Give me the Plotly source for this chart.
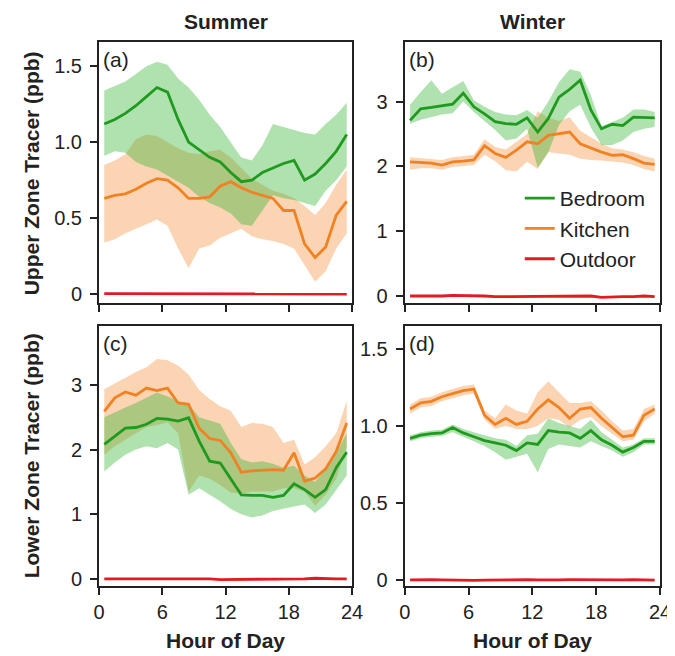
import plotly.graph_objects as go
from plotly.subplots import make_subplots

hours = [h + 0.5 for h in range(24)]

# ---- (a) Summer, upper zone ----
a_bed = [1.12, 1.15, 1.19, 1.24, 1.30, 1.36, 1.33, 1.15, 1.00, 0.95, 0.90, 0.87,
         0.80, 0.74, 0.75, 0.80, 0.83, 0.86, 0.88, 0.75, 0.79, 0.86, 0.94, 1.05]
a_bed_hi = [1.34, 1.37, 1.40, 1.45, 1.50, 1.53, 1.51, 1.42, 1.36, 1.28, 1.18, 1.10,
            1.00, 0.90, 0.88, 0.98, 1.12, 1.10, 1.08, 1.06, 1.05, 1.12, 1.18, 1.26]
a_bed_lo = [0.91, 0.94, 0.93, 0.87, 0.84, 0.82, 0.78, 0.74, 0.70, 0.64, 0.60, 0.57,
            0.53, 0.46, 0.45, 0.55, 0.65, 0.63, 0.62, 0.60, 0.58, 0.68, 0.75, 0.84]
a_kit = [0.63, 0.65, 0.66, 0.69, 0.73, 0.76, 0.75, 0.70, 0.63, 0.63, 0.64, 0.71,
         0.74, 0.70, 0.67, 0.65, 0.63, 0.55, 0.55, 0.33, 0.24, 0.31, 0.52, 0.61]
a_kit_hi = [0.85, 0.88, 0.92, 1.02, 1.05, 1.04, 1.00, 0.96, 0.93, 0.92, 0.94, 0.95,
            0.90, 0.83, 0.76, 0.72, 0.68, 0.66, 0.63, 0.58, 0.52, 0.60, 0.72, 0.82]
a_kit_lo = [0.34, 0.36, 0.40, 0.43, 0.46, 0.49, 0.45, 0.30, 0.17, 0.30, 0.32, 0.37,
            0.40, 0.43, 0.38, 0.36, 0.35, 0.33, 0.30, 0.19, 0.08, 0.15, 0.30, 0.40]
a_out = [0.002, 0.002, 0.001, 0.001, 0.002, 0.001, 0.000, 0.000, 0.001, 0.000, 0.000, 0.000,
         0.000, 0.000, -0.001, -0.001, -0.002, -0.001, 0.000, 0.001, 0.001, 0.000, 0.000, 0.000]

# ---- (b) Winter, upper zone ----
b_bed = [2.71, 2.89, 2.91, 2.94, 2.96, 3.13, 2.92, 2.81, 2.69, 2.66, 2.65, 2.75,
         2.53, 2.74, 3.07, 3.19, 3.33, 2.87, 2.58, 2.65, 2.63, 2.76, 2.76, 2.75]
b_bed_hi = [2.95, 3.15, 3.33, 3.12, 3.22, 3.32, 3.02, 2.92, 2.84, 2.80, 2.79, 2.87,
            2.75, 3.00, 3.30, 3.50, 3.46, 3.10, 2.62, 2.68, 2.75, 2.88, 2.88, 2.84]
b_bed_lo = [2.66, 2.72, 2.76, 2.80, 2.82, 3.00, 2.84, 2.70, 2.56, 2.40, 2.43, 2.58,
            1.98, 2.22, 2.64, 2.85, 2.95, 2.60, 2.33, 2.33, 2.40, 2.53, 2.58, 2.61]
b_kit = [2.07, 2.06, 2.05, 2.02, 2.07, 2.08, 2.10, 2.32, 2.20, 2.14, 2.25, 2.38,
         2.35, 2.48, 2.51, 2.53, 2.35, 2.28, 2.22, 2.17, 2.18, 2.12, 2.05, 2.03]
b_kit_hi = [2.14, 2.13, 2.12, 2.10, 2.14, 2.16, 2.18, 2.42, 2.30, 2.26, 2.38, 2.50,
            2.85, 2.75, 2.70, 2.76, 2.55, 2.45, 2.35, 2.28, 2.26, 2.22, 2.16, 2.12]
b_kit_lo = [1.95, 1.97, 1.97, 1.95, 1.99, 2.00, 2.02, 2.18, 2.08, 1.94, 1.92, 2.07,
            1.96, 2.22, 2.20, 2.18, 2.12, 2.10, 2.09, 2.08, 2.06, 2.02, 1.96, 1.92]
b_out = [0.00, 0.00, -0.01, 0.00, 0.01, 0.01, 0.01, 0.00, -0.01, -0.01, -0.01, -0.01,
         -0.01, -0.01, -0.01, -0.01, 0.00, 0.00, -0.02, -0.01, -0.01, -0.01, 0.00, -0.01]

# ---- (c) Summer, lower zone ----
c_bed = [2.08, 2.21, 2.33, 2.34, 2.39, 2.48, 2.47, 2.44, 2.49, 2.13, 1.82, 1.79,
         1.55, 1.30, 1.29, 1.29, 1.26, 1.29, 1.47, 1.38, 1.26, 1.38, 1.72, 1.96]
c_bed_hi = [2.50, 2.58, 2.65, 2.72, 2.80, 2.88, 2.82, 2.75, 2.70, 2.50, 2.45, 2.40,
            2.10, 1.85, 1.80, 1.82, 1.78, 1.72, 1.75, 1.60, 1.50, 1.70, 1.95, 2.25]
c_bed_lo = [1.66, 1.80, 1.92, 2.00, 2.05, 2.02, 2.10, 2.00, 1.30, 1.40, 1.30, 1.20,
            1.08, 1.00, 0.95, 0.98, 1.05, 1.08, 1.12, 1.15, 1.02, 1.15, 1.38, 1.60]
c_kit = [2.59, 2.80, 2.89, 2.84, 2.95, 2.91, 2.95, 2.72, 2.70, 2.33, 2.17, 2.14,
         1.95, 1.65, 1.67, 1.68, 1.69, 1.68, 1.95, 1.51, 1.56, 1.70, 1.97, 2.41]
c_kit_hi = [2.93, 3.02, 3.12, 3.20, 3.27, 3.40, 3.38, 3.30, 3.16, 2.92, 2.78, 2.67,
            2.60, 2.35, 2.41, 2.40, 2.35, 2.10, 2.15, 1.77, 1.88, 2.05, 2.25, 2.75]
c_kit_lo = [1.92, 2.05, 2.15, 2.25, 2.35, 2.38, 2.42, 2.25, 1.35, 1.60, 1.55, 1.45,
            1.33, 1.32, 1.35, 1.35, 1.35, 1.40, 1.40, 1.35, 1.13, 1.30, 1.55, 2.05]
c_out = [0.00, 0.00, 0.00, 0.01, 0.01, 0.00, 0.00, 0.00, 0.00, 0.00, 0.00, -0.01,
         -0.01, -0.01, -0.01, 0.00, 0.00, 0.00, 0.00, 0.00, 0.01, 0.00, 0.00, 0.00]

# ---- (d) Winter, lower zone ----
d_bed = [0.92, 0.94, 0.95, 0.955, 0.99, 0.955, 0.93, 0.905, 0.89, 0.875, 0.84, 0.89,
         0.88, 0.97, 0.96, 0.955, 0.92, 0.97, 0.91, 0.875, 0.83, 0.86, 0.90, 0.90]
d_bed_hi = [0.94, 0.96, 0.97, 0.975, 1.01, 0.98, 0.96, 0.94, 0.92, 0.91, 0.87, 0.94,
            0.95, 1.05, 1.02, 1.00, 0.98, 1.04, 0.96, 0.91, 0.86, 0.88, 0.92, 0.92]
d_bed_lo = [0.90, 0.92, 0.93, 0.935, 0.96, 0.93, 0.90, 0.87, 0.83, 0.78, 0.80, 0.82,
            0.70, 0.85, 0.88, 0.87, 0.86, 0.90, 0.87, 0.84, 0.80, 0.83, 0.88, 0.88]
d_kit = [1.11, 1.15, 1.16, 1.19, 1.21, 1.23, 1.24, 1.07, 1.01, 1.05, 1.01, 1.03,
         1.11, 1.17, 1.12, 1.05, 1.11, 1.12, 1.05, 0.99, 0.93, 0.94, 1.07, 1.11]
d_kit_hi = [1.14, 1.18, 1.19, 1.22, 1.24, 1.26, 1.27, 1.10, 1.05, 1.14, 1.10, 1.08,
            1.22, 1.29, 1.22, 1.15, 1.15, 1.16, 1.10, 1.03, 0.97, 0.98, 1.11, 1.14]
d_kit_lo = [1.08, 1.12, 1.13, 1.16, 1.18, 1.20, 1.21, 1.04, 0.98, 1.00, 0.98, 0.98,
            1.00, 1.05, 1.04, 0.99, 1.04, 1.06, 1.00, 0.95, 0.90, 0.91, 1.03, 1.08]
d_out = [0.000, 0.002, 0.001, 0.000, -0.002, -0.003, -0.003, -0.002, 0.000, 0.001, 0.001, 0.002,
         0.000, -0.002, 0.000, 0.001, 0.000, -0.001, -0.001, 0.000, 0.000, 0.001, 0.000, -0.002]

xticks = [0, 6, 12, 18, 24]
yt_a = [0, 0.5, 1.0, 1.5]; yl_a = ["0", "0.5", "1.0", "1.5"]
yt_b = [0, 1, 2, 3]; yl_b = ["0", "1", "2", "3"]
yt_c = [0, 1, 2, 3]; yl_c = ["0", "1", "2", "3"]
yt_d = [0, 0.5, 1.0, 1.5]; yl_d = ["0", "0.5", "1.0", "1.5"]

GREEN = "#1f9a1f"
ORANGE = "#f08223"
RED = "#e31a22"
GREEN_FILL = "rgba(45,180,45,0.38)"
ORANGE_FILL = "rgba(245,135,45,0.36)"
FONT = "Liberation Sans, Arial, sans-serif"
TXT = "#222222"

fig = make_subplots(rows=2, cols=2)

panels = [
    (1, 1, a_bed, a_bed_hi, a_bed_lo, a_kit, a_kit_hi, a_kit_lo, a_out, False),
    (1, 2, b_bed, b_bed_hi, b_bed_lo, b_kit, b_kit_hi, b_kit_lo, b_out, True),
    (2, 1, c_bed, c_bed_hi, c_bed_lo, c_kit, c_kit_hi, c_kit_lo, c_out, False),
    (2, 2, d_bed, d_bed_hi, d_bed_lo, d_kit, d_kit_hi, d_kit_lo, d_out, False),
]

for r, c, bed, bhi, blo, kit, khi, klo, out, leg in panels:
    fig.add_trace(go.Scatter(x=hours + hours[::-1], y=khi + klo[::-1], fill="toself",
                             fillcolor=ORANGE_FILL, line=dict(width=0), mode="lines",
                             showlegend=False, hoverinfo="skip"), row=r, col=c)
    fig.add_trace(go.Scatter(x=hours + hours[::-1], y=bhi + blo[::-1], fill="toself",
                             fillcolor=GREEN_FILL, line=dict(width=0), mode="lines",
                             showlegend=False, hoverinfo="skip"), row=r, col=c)
    fig.add_trace(go.Scatter(x=hours, y=bed, mode="lines", name="Bedroom",
                             line=dict(color=GREEN, width=2.8), showlegend=leg), row=r, col=c)
    fig.add_trace(go.Scatter(x=hours, y=kit, mode="lines", name="Kitchen",
                             line=dict(color=ORANGE, width=2.8), showlegend=leg), row=r, col=c)
    fig.add_trace(go.Scatter(x=hours, y=out, mode="lines", name="Outdoor",
                             line=dict(color=RED, width=2.8), showlegend=leg), row=r, col=c)

axis_common = dict(showline=True, linecolor="#222", linewidth=2, mirror=True,
                   ticks="outside", ticklen=7, tickwidth=1.5, tickcolor="#222",
                   showgrid=False, zeroline=False,
                   tickfont=dict(family=FONT, size=20, color=TXT))

xdom_l = [0.0, 0.451]
xdom_r = [0.545, 1.0]
ydom_t = [0.52, 1.0]
ydom_b = [0.0, 0.478]

fig.update_layout(
    xaxis=dict(domain=xdom_l, range=[0, 24], tickvals=xticks, showticklabels=False, **axis_common),
    xaxis2=dict(domain=xdom_r, range=[0, 24], tickvals=xticks, showticklabels=False, **axis_common),
    xaxis3=dict(domain=xdom_l, range=[0, 24], tickvals=xticks, **axis_common),
    xaxis4=dict(domain=xdom_r, range=[0, 24], tickvals=xticks, **axis_common),
    yaxis=dict(domain=ydom_t, range=[-0.06, 1.66], tickvals=yt_a, ticktext=yl_a,
               ticklabelstandoff=4, **axis_common),
    yaxis2=dict(domain=ydom_t, range=[-0.11, 3.92], tickvals=yt_b, ticktext=yl_b,
                ticklabelstandoff=4, **axis_common),
    yaxis3=dict(domain=ydom_b, range=[-0.11, 3.91], tickvals=yt_c, ticktext=yl_c,
                ticklabelstandoff=4, **axis_common),
    yaxis4=dict(domain=ydom_b, range=[-0.04, 1.65], tickvals=yt_d, ticktext=yl_d,
                ticklabelstandoff=4, **axis_common),
)

W, H = 675, 656
ml, mr, mt, mb = 91, 12, 34, 78
pw, ph = W - ml - mr, H - mt - mb

def px(xp):
    return (xp - ml) / pw

def py(yp):
    return 1 - (yp - mt) / ph

annots = []
bold = dict(family=FONT, size=21, color=TXT)
annots.append(dict(text="<b>Summer</b>", x=px(220), y=py(14), xref="paper", yref="paper",
                   showarrow=False, font=bold, xanchor="center", yanchor="middle"))
annots.append(dict(text="<b>Winter</b>", x=px(533), y=py(14), xref="paper", yref="paper",
                   showarrow=False, font=bold, xanchor="center", yanchor="middle"))
annots.append(dict(text="<b>Hour of Day</b>", x=px(220), y=py(632), xref="paper", yref="paper",
                   showarrow=False, font=bold, xanchor="center", yanchor="middle"))
annots.append(dict(text="<b>Hour of Day</b>", x=px(533), y=py(632), xref="paper", yref="paper",
                   showarrow=False, font=bold, xanchor="center", yanchor="middle"))
annots.append(dict(text="<b>Upper Zone Tracer (ppb)</b>", x=px(22), y=py(165), xref="paper",
                   yref="paper", showarrow=False, font=bold, textangle=-90,
                   xanchor="center", yanchor="middle"))
annots.append(dict(text="<b>Lower Zone Tracer (ppb)</b>", x=px(22), y=py(448), xref="paper",
                   yref="paper", showarrow=False, font=bold, textangle=-90,
                   xanchor="center", yanchor="middle"))
for lab, xr, yr in [("(a)", "x domain", "y domain"), ("(b)", "x2 domain", "y2 domain"),
                    ("(c)", "x3 domain", "y3 domain"), ("(d)", "x4 domain", "y4 domain")]:
    annots.append(dict(text=lab, x=0.0, y=0.985, xref=xr, yref=yr, showarrow=False,
                       xanchor="left", yanchor="top", xshift=2,
                       font=dict(family=FONT, size=21, color=TXT)))

fig.update_layout(
    width=W, height=H,
    margin=dict(l=ml, r=mr, t=mt, b=mb),
    plot_bgcolor="white", paper_bgcolor="white",
    annotations=annots,
    legend=dict(x=px(520), y=py(170), xanchor="left", yanchor="top",
                font=dict(family=FONT, size=21, color=TXT),
                bgcolor="rgba(0,0,0,0)", itemwidth=30, tracegroupgap=0),
)

fig.write_html("out.html")
